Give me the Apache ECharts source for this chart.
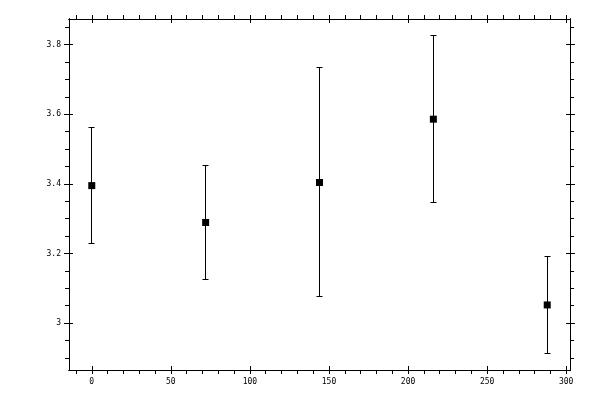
<!DOCTYPE html>
<html>
<head>
<meta charset="utf-8">
<script src="https://cdn.jsdelivr.net/npm/echarts@6/dist/echarts.min.js"></script>
<style>
  html, body { margin: 0; padding: 0; background: #fff; }
  #chart { width: 600px; height: 400px; }
</style>
</head>
<body>
<div id="chart"></div>
<script>
// values
var xValues = [0, 72, 144, 216, 288];
var means = [3.395, 3.289, 3.404, 3.586, 3.052];
var lows = [3.228, 3.124, 3.075, 3.346, 2.911];
var highs = [3.563, 3.453, 3.736, 3.828, 3.190];

var xMajor = [0, 50, 100, 150, 200, 250, 300];
var xMinor = [-10, 10, 20, 30, 40, 60, 70, 80, 90, 110, 120, 130, 140, 160, 170, 180, 190,
              210, 220, 230, 240, 260, 270, 280, 290];
var yMajor = [3, 3.2, 3.4, 3.6, 3.8];
var yMinor = [2.9, 2.95, 3.05, 3.1, 3.15, 3.25, 3.3, 3.35, 3.45, 3.5, 3.55, 3.65, 3.7, 3.75, 3.85];

var xMin = -14.4, xMax = 302.4;
var yMin = 2.865, yMax = 3.874;

var labelFont = { color: '#000', fontFamily: 'DejaVu Sans Mono', fontSize: 8 };

// one axis per tick set; they all sit on the frame
function axis(pos, min, max, ticks, len, inside, withLabels) {
    return {
        type: 'value',
        position: pos,
        min: min,
        max: max,
        axisLine: { show: true, onZero: false, lineStyle: { color: '#000', width: 1 } },
        axisTick: { show: true, customValues: ticks, length: len, inside: inside,
                    lineStyle: { color: '#000', width: 1 } },
        axisLabel: withLabels
            ? Object.assign({ show: true, customValues: ticks, margin: 8 }, labelFont)
            : { show: false },
        splitLine: { show: false }
    };
}

var xAxes = [
    axis('bottom', xMin, xMax, xMajor, 4, false, true),
    axis('bottom', xMin, xMax, xMajor, 4, true, false),
    axis('bottom', xMin, xMax, xMinor, 4, false, false),
    axis('top', xMin, xMax, xMajor, 4, false, false),
    axis('top', xMin, xMax, xMajor, 4, true, false),
    axis('top', xMin, xMax, xMinor, 4, false, false)
];
var yAxes = [
    axis('left', yMin, yMax, yMajor, 5, false, true),
    axis('left', yMin, yMax, yMajor, 4, true, false),
    axis('left', yMin, yMax, yMinor, 4, false, false),
    axis('right', yMin, yMax, yMajor, 5, false, false),
    axis('right', yMin, yMax, yMajor, 4, true, false),
    axis('right', yMin, yMax, yMinor, 4, false, false)
];

var barData = xValues.map(function (x, i) { return [x, lows[i], highs[i]]; });
var pointData = xValues.map(function (x, i) { return [x, means[i]]; });

// nearest pixel centre, keeps 1px lines crisp
function snap(v) { return Math.round(v - 0.5) + 0.5; }

var chart = echarts.init(document.getElementById('chart'));
chart.setOption({
    animation: false,
    backgroundColor: '#fff',
    grid: { left: 69, right: 30, top: 19, bottom: 30 },
    xAxis: xAxes,
    yAxis: yAxes,
    series: [
        {
            type: 'custom',
            xAxisIndex: 0,
            yAxisIndex: 0,
            data: barData,
            renderItem: function (params, api) {
                var lo = api.coord([api.value(0), api.value(1)]);
                var hi = api.coord([api.value(0), api.value(2)]);
                var x = snap(lo[0]);
                var y1 = snap(lo[1]);
                var y2 = snap(hi[1]);
                var cap = 3;
                var style = { stroke: '#000', lineWidth: 1 };
                return {
                    type: 'group',
                    children: [
                        { type: 'line', shape: { x1: x, y1: y1, x2: x, y2: y2 }, style: style },
                        { type: 'line', shape: { x1: x - cap, y1: y1, x2: x + cap, y2: y1 }, style: style },
                        { type: 'line', shape: { x1: x - cap, y1: y2, x2: x + cap, y2: y2 }, style: style }
                    ]
                };
            }
        },
        {
            type: 'scatter',
            xAxisIndex: 0,
            yAxisIndex: 0,
            symbol: 'rect',
            symbolSize: 7,
            itemStyle: { color: '#000', opacity: 1 },
            data: pointData
        }
    ]
});
</script>
</body>
</html>
